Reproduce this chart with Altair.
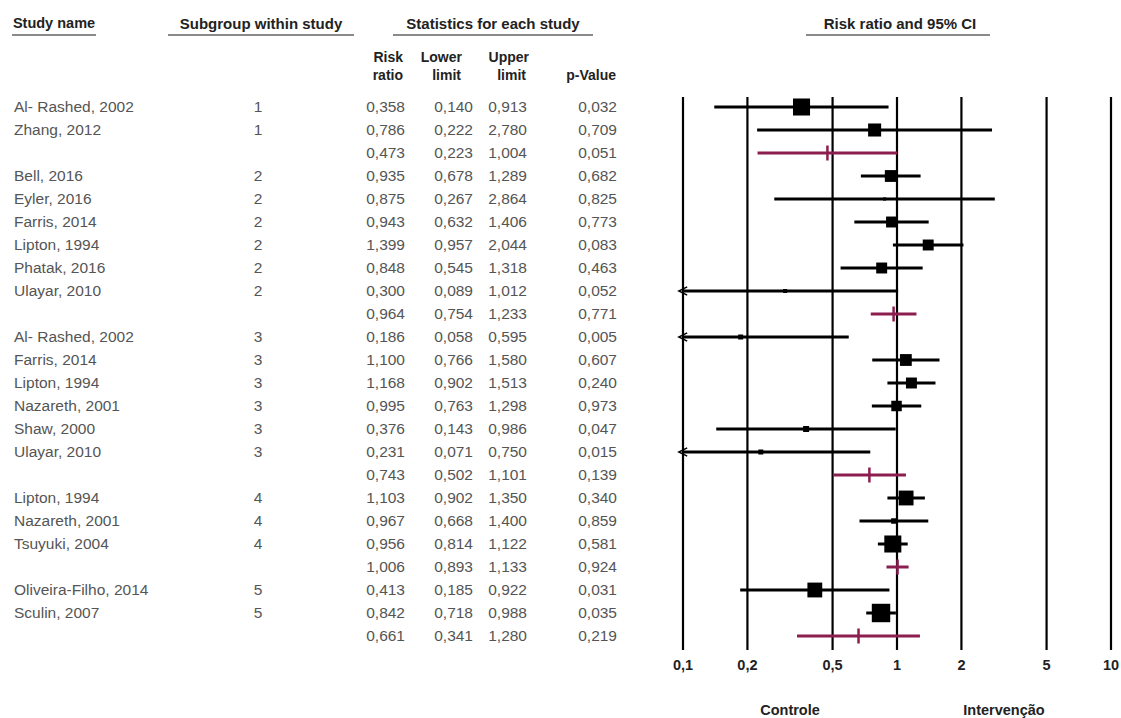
import altair as alt
import pandas as pd

# ---------------- data ----------------
study = ["Al- Rashed, 2002", "Zhang, 2012", "",
         "Bell, 2016", "Eyler, 2016", "Farris, 2014", "Lipton, 1994", "Phatak, 2016", "Ulayar, 2010", "",
         "Al- Rashed, 2002", "Farris, 2014", "Lipton, 1994", "Nazareth, 2001", "Shaw, 2000", "Ulayar, 2010", "",
         "Lipton, 1994", "Nazareth, 2001", "Tsuyuki, 2004", "",
         "Oliveira-Filho, 2014", "Sculin, 2007", ""]
subgroup = ["1", "1", "",
            "2", "2", "2", "2", "2", "2", "",
            "3", "3", "3", "3", "3", "3", "",
            "4", "4", "4", "",
            "5", "5", ""]
risk_ratio = [0.358, 0.786, 0.473,
              0.935, 0.875, 0.943, 1.399, 0.848, 0.300, 0.964,
              0.186, 1.100, 1.168, 0.995, 0.376, 0.231, 0.743,
              1.103, 0.967, 0.956, 1.006,
              0.413, 0.842, 0.661]
lower = [0.140, 0.222, 0.223,
         0.678, 0.267, 0.632, 0.957, 0.545, 0.089, 0.754,
         0.058, 0.766, 0.902, 0.763, 0.143, 0.071, 0.502,
         0.902, 0.668, 0.814, 0.893,
         0.185, 0.718, 0.341]
upper = [0.913, 2.780, 1.004,
         1.289, 2.864, 1.406, 2.044, 1.318, 1.012, 1.233,
         0.595, 1.580, 1.513, 1.298, 0.986, 0.750, 1.101,
         1.350, 1.400, 1.122, 1.133,
         0.922, 0.988, 1.280]
p_value = [0.032, 0.709, 0.051,
           0.682, 0.825, 0.773, 0.083, 0.463, 0.052, 0.771,
           0.005, 0.607, 0.240, 0.973, 0.047, 0.015, 0.139,
           0.340, 0.859, 0.581, 0.924,
           0.031, 0.035, 0.219]
# relative study weight; 0 for subgroup summaries
weight = [29, 17, 0,
          14, 1, 12, 12, 12, 1.6, 0,
          2.5, 14, 12, 11, 3.6, 2.5, 0,
          22, 3, 29, 0,
          22, 34, 0]

tick_values = [0.1, 0.2, 0.5, 1, 2, 5, 10]
tick_labels = ["0,1", "0,2", "0,5", "1", "2", "5", "10"]


def fmt(v):
    return f"{v:.3f}".replace(".", ",")


df = pd.DataFrame({
    "row": list(range(len(study))),
    "study": study,
    "sub": subgroup,
    "rr": risk_ratio,
    "lo": lower,
    "hi": upper,
    "p": p_value,
    "w": weight,
})
df["summary"] = df["study"] == ""
df["lo_plot"] = df["lo"].clip(lower=0.1)
df["rr_t"] = df["rr"].map(fmt)
df["lo_t"] = df["lo"].map(fmt)
df["hi_t"] = df["hi"].map(fmt)
df["p_t"] = df["p"].map(fmt)

ticks = pd.DataFrame({"v": tick_values, "lab": tick_labels})

# ---------------- scales ----------------
FONT = "Liberation Sans"
PURPLE = "#8c1d4f"
TXT = "#555555"
xs = alt.Scale(type="log", domain=[0.1, 10], range=[683, 1111])
ys = alt.Scale(domain=[0, len(study) - 1], range=[107, 636])
Y = alt.Y("row:Q", scale=ys, axis=None)

base = alt.Chart(df)
layers = []

# table text columns
def col(field, x, align):
    return base.mark_text(align=align, baseline="middle", font=FONT, fontSize=15.5, color=TXT).encode(
        x=alt.value(x), y=Y, text=f"{field}:N")

layers += [
    col("study", 14, "left"),
    col("sub", 258, "center"),
    col("rr_t", 405, "right"),
    col("lo_t", 473, "right"),
    col("hi_t", 527, "right"),
    col("p_t", 617, "right"),
]

# headers
def label(text, x, y, align="center", size=15, weight="bold", color="#222"):
    return alt.Chart(pd.DataFrame({"t": [text]})).mark_text(
        align=align, baseline="middle", font=FONT, fontSize=size, fontWeight=weight, color=color
    ).encode(x=alt.value(x), y=alt.value(y), text="t:N")

def underline(x1, x2, y):
    return alt.Chart(pd.DataFrame({"a": [0]})).mark_rule(color="#8a8a8a", strokeWidth=2).encode(
        x=alt.value(x1), x2=alt.value(x2), y=alt.value(y))

layers += [
    label("Study name", 54, 24, size=14.5), underline(12, 96, 35),
    label("Subgroup within study", 261, 24), underline(168, 354, 35),
    label("Statistics for each study", 493, 24), underline(393, 593, 35),
    label("Risk ratio and 95% CI", 900, 24), underline(806, 990, 35),
    label("Risk", 403, 58, "right", 14), label("ratio", 403, 76, "right", 14),
    label("Lower", 462, 58, "right", 14), label("limit", 461, 76, "right", 14),
    label("Upper", 529, 58, "right", 14), label("limit", 526, 76, "right", 14),
    label("p-Value", 616, 76, "right", 14),
    label("Controle", 790, 711, size=14.5),
    label("Intervenção", 1004, 711, size=14.5),
]

# vertical reference lines and tick labels
tk = alt.Chart(ticks)
layers += [
    tk.mark_rule(color="black", strokeWidth=2.2).encode(
        x=alt.X("v:Q", scale=xs, axis=None), y=alt.value(97), y2=alt.value(650)),
    tk.mark_text(font=FONT, fontSize=14.5, fontWeight="bold", color="#222", baseline="middle").encode(
        x=alt.X("v:Q", scale=xs, axis=None), y=alt.value(666), text="lab:N"),
]

# study CIs
studies = base.transform_filter("datum.summary == false")
layers += [
    studies.mark_rule(color="black", strokeWidth=3).encode(
        x=alt.X("lo_plot:Q", scale=xs, axis=None), x2="hi:Q", y=Y),
    studies.mark_square(color="black", opacity=1).encode(
        x=alt.X("rr:Q", scale=xs, axis=None), y=Y,
        size=alt.Size("w:Q", scale=alt.Scale(domain=[0, 40], range=[0, 400]), legend=None)),
    base.transform_filter("datum.lo < 0.1").mark_point(
        shape="M 1 -1 L -1 0 L 1 1", filled=False, color="black", strokeWidth=1.5, size=70, opacity=1).encode(
        x=alt.X("lo_plot:Q", scale=xs, axis=None), y=Y),
]

# subgroup summaries
sums = base.transform_filter("datum.summary == true")
layers += [
    sums.mark_rule(color=PURPLE, strokeWidth=3).encode(
        x=alt.X("lo_plot:Q", scale=xs, axis=None), x2="hi:Q", y=Y),
    sums.mark_tick(color=PURPLE, orient="vertical", size=15, thickness=2.5, opacity=1).encode(
        x=alt.X("rr:Q", scale=xs, axis=None), y=Y),
]

chart = alt.layer(*layers).properties(
    width=1121, height=718, autosize="none", padding=0, background="white"
).configure_view(stroke=None)

chart.save("out.html", embed_options={"renderer": "svg", "actions": False})
